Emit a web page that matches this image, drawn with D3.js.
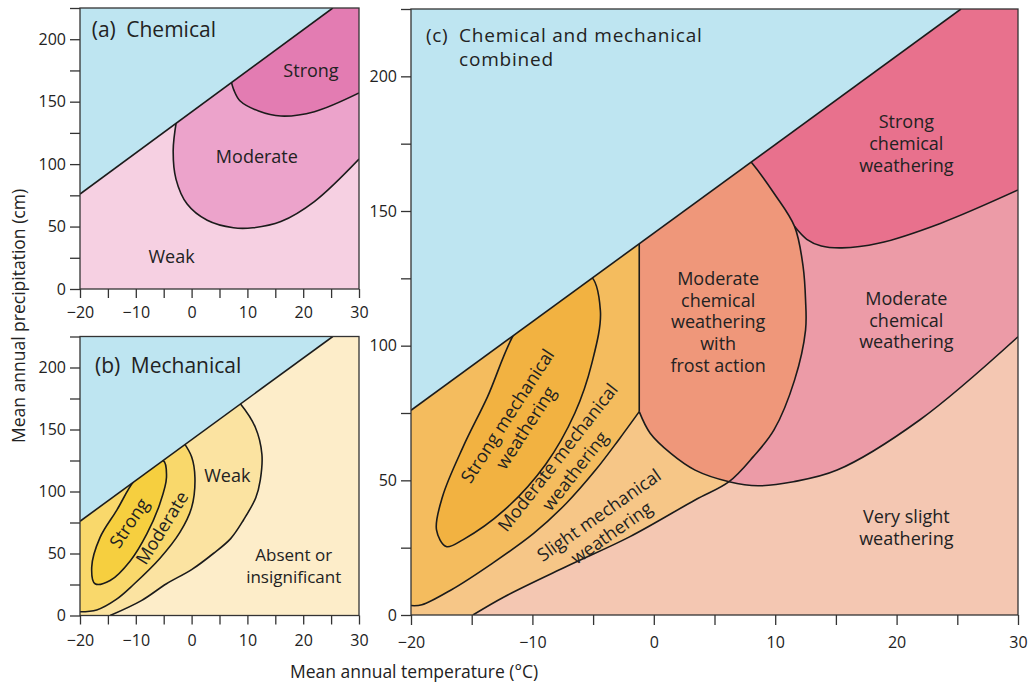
<!DOCTYPE html>
<html><head><meta charset="utf-8">
<script src="https://cdn.jsdelivr.net/npm/d3@7"></script>
<style>body{margin:0;background:#fff}text{font-family:"Open Sans",sans-serif;fill:#222}</style>
</head><body>
<svg id="chart" width="1031" height="687"></svg>
<script>
// ---------- data (temperature °C, precipitation cm) ----------
const xDomain = [-20, 30];
const yDomain = [0, 225];
const xTicks = [-20, -15, -10, -5, 0, 5, 10, 15, 20, 25, 30];
const xTickLabels = [-20, -10, 0, 10, 20, 30];
const yTicks = [0, 25, 50, 75, 100, 125, 150, 175, 200, 225];
const yTickLabels = [0, 50, 100, 150, 200];

// upper limit of the diagram (no data above)
const diagonal = [[-20, 76], [25.3, 225]];

// (a) chemical
const aModerate = [[-2.7, 135], [-3.3, 111], [-2.8, 88], [-0.8, 68], [2.8, 55], [7.5, 49], [11, 49], [16, 54], [22, 70], [30, 104]];
const aStrong = [[7.0, 168], [7.6, 159], [8.7, 150.5], [12, 142.5], [16, 138.5], [22, 142], [30, 157]];

// (b) mechanical
const bWeak = [[-14.6, 0], [-9, 12], [-4.5, 25.6], [0, 37], [3.9, 50], [7, 62], [9.3, 77], [11.5, 95], [12.3, 109], [12.6, 130], [11.4, 152], [8.7, 171], [7.8, 175]];
const bModerate = [[-20, 3], [-17, 4.5], [-13.5, 13], [-10.4, 25], [-5.7, 46], [-2.1, 67], [0, 87], [0.6, 111], [0, 128], [-1.5, 140]];
const bStrong = [[-5.1, 125], [-4.5, 111.5], [-5.7, 90], [-8, 66], [-11, 44], [-14.6, 28.2], [-17.3, 25.6], [-17.9, 39], [-16.4, 63], [-13.4, 85], [-10.4, 108], [-7.5, 121]];

// (c) combined
const cModChem = [[-1.2, 75.5], [-0.3, 67.5], [1.4, 60], [3.4, 53.8], [6.2, 49.5], [8.6, 48], [11.5, 49.5], [15.1, 53.8], [21.9, 72.4], [30, 103.3]];
const cStrongChem = [[11.6, 144.2], [12.6, 139.5], [13.8, 137], [15.5, 136.3], [18.5, 138], [23.6, 145.4], [30, 157.8]];
const cSlightLower = [[-14.9, 0], [-12.3, 6.8], [-7.2, 18], [-2, 29], [3.4, 42.7], [6.2, 49.5]];
const cFrostRight = [[6.2, 49.5], [8.2, 58.8], [9.9, 68.7], [11.6, 87.3], [12.5, 105.8], [12.5, 117], [12.3, 129.3], [11.6, 144.2], [9.9, 156.6], [8.1, 167.7], [7.2, 172]];
const cFrostLeft = [[-1.2, 75.5], [-1.2, 141]];
const cModMech = [[-20, 3.5], [-19.1, 3.8], [-16.7, 9.3], [-13.3, 19.2], [-9.9, 30.3], [-7.2, 41.5], [-4.8, 53.8], [-2.9, 65], [-1.2, 75.5]];
const cStrongMech = [[-5.3, 126], [-4.4, 113], [-5.1, 93.5], [-6.5, 75], [-8.9, 56], [-12.3, 39], [-15.7, 28], [-17.1, 25.4], [-17.9, 31.6], [-17.4, 44], [-15.7, 62.5], [-13.7, 81], [-11.3, 106], [-8.5, 120]];

// ---------- styles ----------
const col = {
  blue: "#BEE5F1",
  aWeak: "#F6D0E2", aMod: "#ECA3CB", aStrong: "#E37CB2",
  bAbsent: "#FDEDC9", bWeak: "#FBE3A1", bMod: "#F9D86B", bStrong: "#F6CF3F",
  cVery: "#F4C7B2", cSlight: "#F6C687", cModMech: "#F4BC5E", cStrongMech: "#F2B241",
  cFrost: "#EF977A", cModChem: "#EC9BA7", cStrongChem: "#E8718D"
};
const strokeCol = "#1b1b1b", strokeW = 1.6, axisCol = "#333";

const svg = d3.select("#chart");
const defs = svg.append("defs");

function panel(key, box, tick) {
  const x = d3.scaleLinear().domain(xDomain).range([box.x0, box.x1]);
  const y = d3.scaleLinear().domain(yDomain).range([box.y1, box.y0]);
  defs.append("clipPath").attr("id", "clip-" + key).append("rect")
    .attr("x", box.x0).attr("y", box.y0).attr("width", box.x1 - box.x0).attr("height", box.y1 - box.y0);
  const g = svg.append("g");
  const plot = g.append("g").attr("clip-path", `url(#clip-${key})`);
  const cr = d3.line().x(d => x(d[0])).y(d => y(d[1])).curve(d3.curveCatmullRom.alpha(0.5));
  const crc = d3.line().x(d => x(d[0])).y(d => y(d[1])).curve(d3.curveCatmullRomClosed.alpha(0.5));
  const lin = d3.line().x(d => x(d[0])).y(d => y(d[1]));
  function path(segs) {
    let d = "";
    segs.forEach((s, i) => {
      let p = (s.curve ? cr : lin)(s.pts);
      if (i > 0) p = "L" + p.slice(1);
      d += p;
    });
    return d + "Z";
  }
  const api = {
    x, y, g, plot,
    fill(segs, color) { plot.append("path").attr("d", path(segs)).attr("fill", color); },
    fillClosed(pts, color) { plot.append("path").attr("d", crc(pts)).attr("fill", color); },
    rectFill(color) { plot.append("rect").attr("x", box.x0).attr("y", box.y0).attr("width", box.x1 - box.x0).attr("height", box.y1 - box.y0).attr("fill", color); },
    stroke(pts, closed, straight) {
      plot.append("path").attr("d", (closed ? crc : (straight ? lin : cr))(pts))
        .attr("fill", "none").attr("stroke", strokeCol).attr("stroke-width", strokeW).attr("stroke-linejoin", "round");
    },
    sky() {
      plot.append("path").attr("d", lin([diagonal[0], diagonal[1], [xDomain[0], yDomain[1]]]) + "Z").attr("fill", col.blue);
      api.stroke(diagonal, false, true);
    },
    frame() {
      g.append("rect").attr("x", box.x0).attr("y", box.y0).attr("width", box.x1 - box.x0).attr("height", box.y1 - box.y0)
        .attr("fill", "none").attr("stroke", axisCol).attr("stroke-width", 1.3);
      const ax = g.append("g").attr("transform", `translate(0,${box.y1})`)
        .call(d3.axisBottom(x).tickValues(xTicks).tickSize(tick.x).tickPadding(tick.xp)
          .tickFormat(d => xTickLabels.includes(d) ? (d < 0 ? "\u2212" + (-d) : d) : ""));
      const ay = g.append("g").attr("transform", `translate(${box.x0},0)`)
        .call(d3.axisLeft(y).tickValues(yTicks).tickSize(tick.y).tickPadding(tick.yp)
          .tickFormat(d => yTickLabels.includes(d) ? d : ""));
      [ax, ay].forEach(a => {
        a.select(".domain").remove();
        a.selectAll("line").attr("stroke", axisCol).attr("stroke-width", 1.3);
        a.selectAll("text").attr("font-size", 16).attr("font-family", "Open Sans").attr("fill", "#2a2a2a");
      });
    },
    label(lines, at, opts = {}) {
      const lh = opts.lh || 21.7, fs = opts.fs || 18;
      const t = g.append("text").attr("text-anchor", opts.anchor || "middle").attr("font-size", fs)
        .attr("x", x(at[0])).attr("y", y(at[1]));
      lines.forEach((l, i) => t.append("tspan").attr("x", x(at[0])).attr("dy", i === 0 ? 0 : lh).text(l));
    },
    rotLabel(lines, at, angle, opts = {}) {
      const lh = opts.lh || 21.7, fs = opts.fs || 18;
      const gg = g.append("g").attr("transform", `translate(${x(at[0])},${y(at[1])}) rotate(${angle})`);
      const n = lines.length;
      lines.forEach((l, i) => gg.append("text").attr("text-anchor", "middle").attr("font-size", fs)
        .attr("x", 0).attr("y", (i - (n - 1) / 2) * lh).attr("dy", "0.35em").text(l));
    }
  };
  return api;
}

// ---------- panel (a) ----------
const A = panel("a", { x0: 80, x1: 359, y0: 8, y1: 289 }, { x: 9, xp: 9, y: 10, yp: 4 });
A.rectFill(col.aWeak);
A.fill([{ pts: aModerate, curve: true }, { pts: [[30, 225], [-2.7, 225]] }], col.aMod);
A.fill([{ pts: aStrong, curve: true }, { pts: [[30, 225], [7.0, 225]] }], col.aStrong);
A.stroke(aModerate); A.stroke(aStrong);
A.sky();
A.frame();
A.g.append("text").attr("x", A.x(-17.9)).attr("y", A.y(201.5)).attr("font-size", 21).text("(a)\u2002Chemical");
A.label(["Strong"], [21.4, 169.5]);
A.label(["Moderate"], [11.7, 100.6]);
A.label(["Weak"], [-3.6, 20.6]);

// ---------- panel (b) ----------
const B = panel("b", { x0: 80, x1: 359, y0: 336.5, y1: 615.5 }, { x: 9, xp: 10, y: 10, yp: 4 });
B.rectFill(col.bAbsent);
B.fill([{ pts: bWeak, curve: true }, { pts: [[7.8, 225], [-20, 225], [-20, 0]] }], col.bWeak);
B.fill([{ pts: bModerate, curve: true }, { pts: [[-1.5, 225], [-20, 225]] }], col.bMod);
B.fillClosed(bStrong, col.bStrong);
B.stroke(bWeak); B.stroke(bModerate); B.stroke(bStrong, true);
B.sky();
B.frame();
B.g.append("text").attr("x", B.x(-17.3)).attr("y", B.y(195.3)).attr("font-size", 21).text("(b)\u2002Mechanical");
B.label(["Weak"], [6.4, 107.9]);
B.label(["Absent or", "insignificant"], [18.3, 44], { lh: 21.7, fs: 17 });
B.rotLabel(["Strong"], [-11.2, 74.6], -56);
B.rotLabel(["Moderate"], [-5.3, 70.6], -58);

// ---------- panel (c) ----------
const C = panel("c", { x0: 411, x1: 1018, y0: 9, y1: 615 }, { x: 10, xp: 12, y: 10, yp: 4 });
C.rectFill(col.cVery);
C.fill([{ pts: cModChem, curve: true }, { pts: [[30, 225], [-1.2, 225]] }], col.cModChem);
C.fill([{ pts: cStrongChem, curve: true }, { pts: [[30, 225], [5, 225], [5, 148]] }], col.cStrongChem);
C.fill([{ pts: cModChem.slice(0, 5), curve: true }, { pts: cFrostRight, curve: true }, { pts: [[7.2, 225], [-1.2, 225]] }], col.cFrost);
C.fill([{ pts: [[-20, 0]] }, { pts: cSlightLower, curve: true }, { pts: cModChem.slice(0, 5).reverse(), curve: true }, { pts: [[-1.2, 225], [-20, 225]] }], col.cSlight);
C.fill([{ pts: cModMech, curve: true }, { pts: [[-1.2, 225], [-20, 225]] }], col.cModMech);
C.fillClosed(cStrongMech, col.cStrongMech);
C.stroke(cModChem);
C.stroke(cSlightLower.concat(cFrostRight.slice(1)));
C.stroke(cFrostLeft, false, true);
C.stroke(cModMech);
C.stroke(cStrongMech, true);
C.stroke(cStrongChem);
C.sky();
C.frame();
C.g.append("text").attr("x", 426).attr("y", 41.7).attr("font-size", 19).attr("letter-spacing", 0.7).text("(c)");
C.g.append("text").attr("x", 459).attr("y", 41.7).attr("font-size", 19).attr("letter-spacing", 0.8).text("Chemical and mechanical");
C.g.append("text").attr("x", 459).attr("y", 65.7).attr("font-size", 19).attr("letter-spacing", 0.8).text("combined");
C.label(["Strong", "chemical", "weathering"], [20.8, 180.7]);
C.label(["Moderate", "chemical", "weathering", "with", "frost action"], [5.3, 122.5]);
C.label(["Moderate", "chemical", "weathering"], [20.8, 115.1]);
C.label(["Very slight", "weathering"], [20.8, 34]);
C.rotLabel(["Strong mechanical", "weathering"], [-11.3, 71.7], -57);
C.rotLabel(["Moderate mechanical", "weathering"], [-7.2, 56.0], -52);
C.rotLabel(["Slight mechanical", "weathering"], [-4.0, 33.8], -35);

// ---------- axis titles ----------
svg.append("text").attr("text-anchor", "middle").attr("font-size", 17.5)
  .attr("transform", "translate(25,316) rotate(-90)").text("Mean annual precipitation (cm)");
svg.append("text").attr("text-anchor", "middle").attr("font-size", 17.5)
  .attr("x", 414).attr("y", 678).text("Mean annual temperature (\u00B0C)");
</script>
</body></html>
